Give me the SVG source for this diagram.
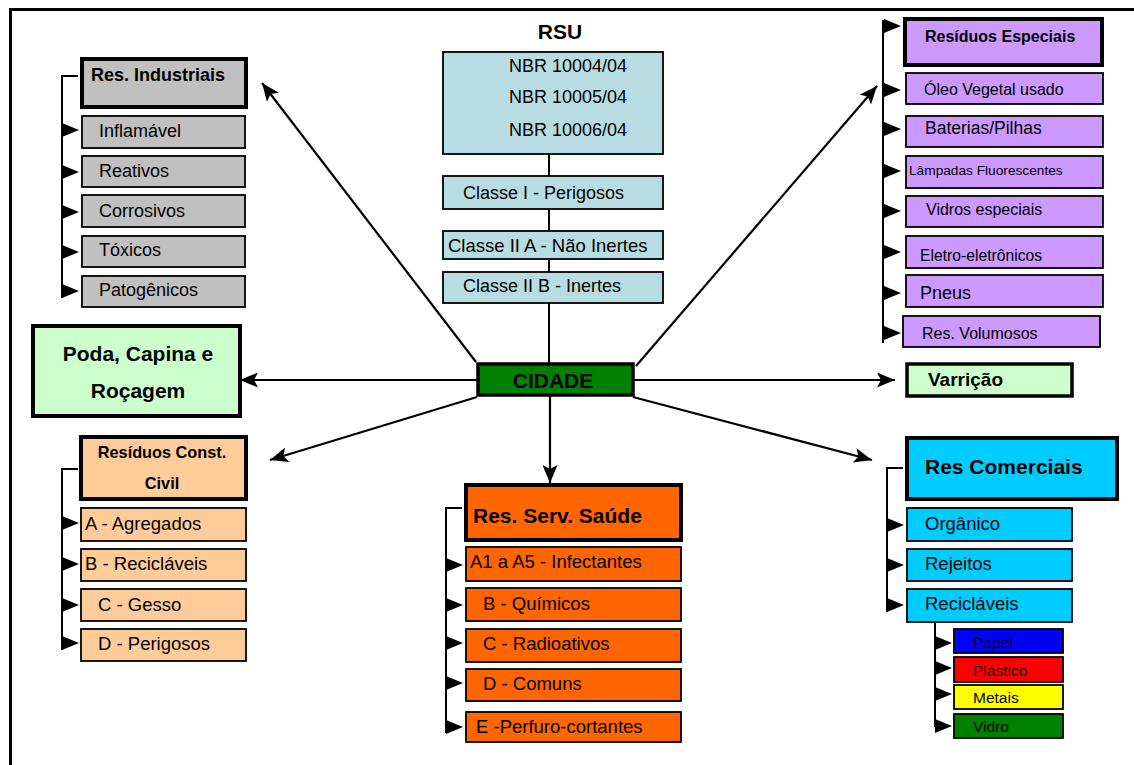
<svg xmlns="http://www.w3.org/2000/svg" width="1134" height="765" viewBox="0 0 1134 765">
<style>
text{font-family:"Liberation Sans",Arial,sans-serif;fill:#000;dominant-baseline:central}
.b{font-weight:bold}
.hd{stroke:#000;stroke-width:4}
.sb{stroke:#000;stroke-width:1.8}
.ln{stroke:#000;stroke-width:2;fill:none}
.cn{stroke:#000;stroke-width:2.2;fill:none;marker-end:url(#ah)}
.tri{fill:#000}
.gy{fill:#C0C0C0}.cy{fill:#B7DDE3}.pu{fill:#CC99FF}.lg{fill:#CCFFCC}.pe{fill:#FFCC99}.or{fill:#FF6600}.bl{fill:#00CCFF}
.r{font-size:18.5px}.s{font-size:16px}.n{font-size:18px}
</style>
<defs>
<marker id="ah" markerUnits="userSpaceOnUse" markerWidth="19" markerHeight="15" refX="18" refY="7.5" orient="auto">
<path d="M0,0 L18,7.5 L0,15 L4,7.5 z" fill="#000"/>
</marker>
<path id="bt" d="M0,-7 L17,0 L0,7 z"/>
</defs>
<rect width="1134" height="765" fill="#fff"/>
<g id="frame"><path d="M10.5,765 V9.5 H1134" stroke="#000" stroke-width="3" fill="none"/></g>

<g id="connectors">
<line class="ln" x1="549" y1="154" x2="549" y2="364"/>
<line class="cn" x1="476" y1="362" x2="262" y2="83"/>
<line class="cn" x1="636" y1="366" x2="877" y2="86"/>
<line class="cn" x1="477" y1="380" x2="240" y2="380"/>
<line class="cn" x1="633" y1="380" x2="895" y2="380"/>
<line class="cn" x1="477" y1="397" x2="270" y2="460"/>
<line class="cn" x1="550" y1="395" x2="550" y2="483"/>
<line class="cn" x1="633" y1="397" x2="872" y2="460"/>
<path class="ln" d="M78,76 H62 V298"/>
<path class="ln" d="M883,20 V343"/>
<path class="ln" d="M78,469 H62 V650"/>
<path class="ln" d="M462,508 H446 V733"/>
<path class="ln" d="M903,468 H887 V612"/>
<path class="ln" d="M935,622 V727"/>
<g class="tri">
<use href="#bt" x="62" y="130"/><use href="#bt" x="62" y="172"/><use href="#bt" x="62" y="212"/><use href="#bt" x="62" y="252"/><use href="#bt" x="62" y="291"/>
<use href="#bt" x="884" y="26"/><use href="#bt" x="884" y="90"/><use href="#bt" x="884" y="129"/><use href="#bt" x="884" y="171"/><use href="#bt" x="884" y="211"/><use href="#bt" x="884" y="252"/><use href="#bt" x="884" y="293"/><use href="#bt" x="884" y="333"/>
<use href="#bt" x="62" y="523"/><use href="#bt" x="62" y="564"/><use href="#bt" x="62" y="605"/><use href="#bt" x="62" y="643"/>
<use href="#bt" x="446" y="565"/><use href="#bt" x="446" y="605"/><use href="#bt" x="446" y="643"/><use href="#bt" x="446" y="683"/><use href="#bt" x="446" y="727"/>
<use href="#bt" x="887" y="525"/><use href="#bt" x="887" y="565"/><use href="#bt" x="887" y="605"/>
<use href="#bt" x="935" y="643"/><use href="#bt" x="935" y="668"/><use href="#bt" x="935" y="694"/><use href="#bt" x="935" y="726"/>
</g>
</g>

<g id="rsu">
<text class="b" x="560" y="31" font-size="21" text-anchor="middle">RSU</text>
<rect class="cy sb" x="443" y="52" width="220" height="102"/>
<text class="n" x="509" y="66">NBR 10004/04</text>
<text class="n" x="509" y="97">NBR 10005/04</text>
<text class="n" x="509" y="130">NBR 10006/04</text>
</g>
<g id="classe1"><rect class="cy sb" x="443" y="176" width="220" height="33"/><text class="n" x="463" y="193">Classe I - Perigosos</text></g>
<g id="classe2a"><rect class="cy sb" x="443" y="231" width="220" height="28"/><text x="448" y="245" font-size="18.5">Classe II A - Não Inertes</text></g>
<g id="classe2b"><rect class="cy sb" x="443" y="272" width="220" height="31"/><text class="n" x="463" y="286">Classe II B - Inertes</text></g>

<g id="cidade"><rect x="478" y="364" width="155" height="31" fill="#008000" stroke="#000" stroke-width="3.5"/><text class="b" x="553" y="380" font-size="21" text-anchor="middle">CIDADE</text></g>

<g id="industriais">
<rect class="gy hd" x="82" y="59" width="164" height="48"/>
<text class="b" x="91" y="75" font-size="18">Res. Industriais</text>
</g>
<g id="ind-1"><rect class="gy sb" x="82" y="116" width="163" height="32"/><text class="n" x="99" y="131">Inflamável</text></g>
<g id="ind-2"><rect class="gy sb" x="82" y="156" width="163" height="31"/><text class="n" x="99" y="171">Reativos</text></g>
<g id="ind-3"><rect class="gy sb" x="82" y="195" width="163" height="32"/><text class="n" x="99" y="211">Corrosivos</text></g>
<g id="ind-4"><rect class="gy sb" x="82" y="236" width="163" height="31"/><text class="n" x="99" y="250">Tóxicos</text></g>
<g id="ind-5"><rect class="gy sb" x="82" y="276" width="163" height="31"/><text class="n" x="99" y="290">Patogênicos</text></g>

<g id="especiais">
<rect class="pu hd" x="905" y="19" width="197" height="46"/>
<text class="b" x="925" y="36" font-size="16">Resíduos Especiais</text>
</g>
<g id="esp-1"><rect class="pu sb" x="906" y="73" width="197" height="31"/><text class="s" x="924" y="89">Óleo Vegetal usado</text></g>
<g id="esp-2"><rect class="pu sb" x="906" y="116" width="197" height="31"/><text x="925" y="128" font-size="17.5">Baterias/Pilhas</text></g>
<g id="esp-3"><rect class="pu sb" x="906" y="156" width="197" height="32"/><text x="909" y="170" font-size="13.7">Lâmpadas Fluorescentes</text></g>
<g id="esp-4"><rect class="pu sb" x="906" y="196" width="197" height="31"/><text class="s" x="926" y="209">Vidros especiais</text></g>
<g id="esp-5"><rect class="pu sb" x="906" y="236" width="197" height="32"/><text x="920" y="255" font-size="15.7">Eletro-eletrônicos</text></g>
<g id="esp-6"><rect class="pu sb" x="906" y="275" width="197" height="32"/><text x="920" y="293" font-size="18">Pneus</text></g>
<g id="esp-7"><rect class="pu sb" x="903" y="316" width="197" height="31"/><text class="s" x="922" y="333">Res. Volumosos</text></g>

<g id="poda">
<rect class="lg hd" x="33" y="326" width="207" height="90"/>
<text class="b" x="138" y="353" font-size="21" text-anchor="middle">Poda, Capina e</text>
<text class="b" x="138" y="390" font-size="21" text-anchor="middle">Roçagem</text>
</g>
<g id="varricao"><rect class="lg" x="907" y="364" width="165" height="32" stroke="#000" stroke-width="3.5"/><text class="b" x="928" y="379" font-size="19">Varrição</text></g>

<g id="construcao">
<rect class="pe hd" x="81" y="437" width="165" height="62"/>
<text class="b" x="162" y="452" font-size="16.3" text-anchor="middle">Resíduos Const.</text>
<text class="b" x="162" y="483" font-size="16.3" text-anchor="middle">Civil</text>
</g>
<g id="rcc-1"><rect class="pe sb" x="81" y="508" width="165" height="33"/><text class="r" x="85" y="523">A - Agregados</text></g>
<g id="rcc-2"><rect class="pe sb" x="81" y="549" width="165" height="32"/><text class="r" x="85" y="563">B - Recicláveis</text></g>
<g id="rcc-3"><rect class="pe sb" x="81" y="589" width="165" height="32"/><text class="r" x="98" y="604">C - Gesso</text></g>
<g id="rcc-4"><rect class="pe sb" x="81" y="629" width="165" height="32"/><text class="r" x="98" y="643">D - Perigosos</text></g>

<g id="saude">
<rect class="or hd" x="466" y="485" width="215" height="55"/>
<text class="b" x="473" y="515" font-size="21">Res. Serv. Saúde</text>
</g>
<g id="rss-1"><rect class="or sb" x="466" y="547" width="215" height="34"/><text class="r" x="470" y="561">A1 a A5 - Infectantes</text></g>
<g id="rss-2"><rect class="or sb" x="466" y="588" width="215" height="33"/><text class="r" x="483" y="603">B - Químicos</text></g>
<g id="rss-3"><rect class="or sb" x="466" y="629" width="215" height="33"/><text class="r" x="483" y="643">C - Radioativos</text></g>
<g id="rss-4"><rect class="or sb" x="466" y="669" width="215" height="32"/><text class="r" x="483" y="683">D - Comuns</text></g>
<g id="rss-5"><rect class="or sb" x="466" y="712" width="215" height="30"/><text class="r" x="476" y="726">E -Perfuro-cortantes</text></g>

<g id="comerciais">
<rect class="bl hd" x="907" y="438" width="210" height="61"/>
<text class="b" x="925" y="466" font-size="21">Res Comerciais</text>
</g>
<g id="com-1"><rect class="bl sb" x="907" y="508" width="165" height="33"/><text x="925" y="523" font-size="18.5">Orgânico</text></g>
<g id="com-2"><rect class="bl sb" x="907" y="549" width="165" height="32"/><text x="925" y="563" font-size="18.5">Rejeitos</text></g>
<g id="com-3"><rect class="bl sb" x="907" y="589" width="165" height="33"/><text x="925" y="603" font-size="18.5">Recicláveis</text></g>
<g id="rec-1"><rect class="sb" x="954" y="629" width="109" height="24" fill="#0000FF"/><text x="973" y="642" font-size="15.5">Papel</text></g>
<g id="rec-2"><rect class="sb" x="954" y="657" width="109" height="25" fill="#FF0000"/><text x="973" y="670" font-size="15.5">Plástico</text></g>
<g id="rec-3"><rect class="sb" x="954" y="685" width="109" height="24" fill="#FFFF00"/><text x="973" y="697" font-size="15.5">Metais</text></g>
<g id="rec-4"><rect class="sb" x="954" y="714" width="109" height="24" fill="#008000"/><text x="973" y="726" font-size="15.5">Vidro</text></g>
</svg>
